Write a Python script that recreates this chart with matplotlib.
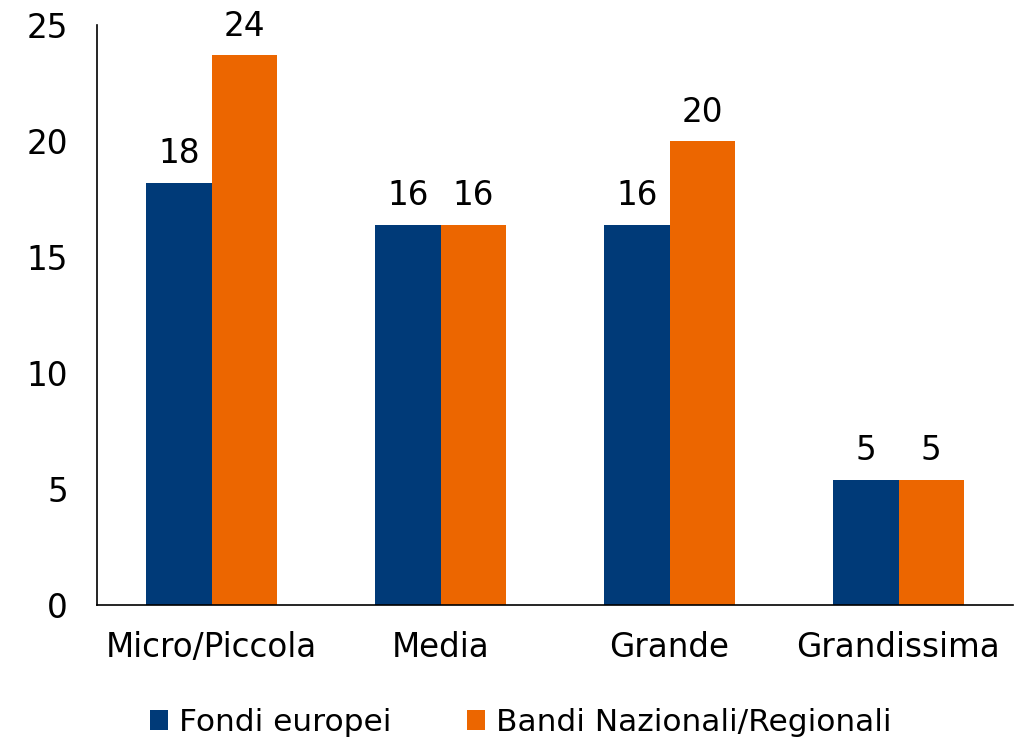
import matplotlib
matplotlib.use("Agg")
import matplotlib.pyplot as plt
import numpy as np

categories = ["Micro/Piccola", "Media", "Grande", "Grandissima"]
fondi_europei = [18.2, 16.4, 16.4, 5.4]
bandi_nazionali = [23.7, 16.4, 20.0, 5.4]
series_names = ["Fondi europei", "Bandi Nazionali/Regionali"]
yticks = [0, 5, 10, 15, 20, 25]

plt.rcParams['font.family'] = ['DejaVu Sans']
blue = "#003A78"
orange = "#EC6600"
FS = 23.5

fig = plt.figure(figsize=(10.25, 7.4), dpi=100)
ax = fig.add_axes([97/1025, 1-605/740, 916/1025, 580/740])

x = np.arange(len(categories))
w = 0.286
b1 = ax.bar(x - w/2, fondi_europei, w, color=blue, label=series_names[0])
b2 = ax.bar(x + w/2, bandi_nazionali, w, color=orange, label=series_names[1])

for bars, vals in ((b1, fondi_europei), (b2, bandi_nazionali)):
    for r, v in zip(bars, vals):
        ax.annotate(f"{v:.0f}", (r.get_x() + r.get_width()/2, r.get_height()),
                    xytext=(0, 9), textcoords="offset points",
                    ha="center", va="bottom", fontsize=FS, color="black")

ax.set_xlim(-0.5, 3.5)
ax.set_ylim(0, 25)
ax.set_yticks(yticks)
ax.set_xticks(x)
ax.set_xticklabels(categories)
ax.tick_params(axis="both", length=0, labelsize=FS, colors="black")
ax.tick_params(axis="y", pad=21)
ax.tick_params(axis="x", pad=19)
for s in ("top", "right"):
    ax.spines[s].set_visible(False)
for s in ("left", "bottom"):
    ax.spines[s].set_color("black")
    ax.spines[s].set_linewidth(1.2)

leg = fig.legend(loc="lower center", bbox_to_anchor=(0.508, -0.034), ncol=2,
                 frameon=False, fontsize=22.5, handlelength=0.6, handleheight=0.6,
                 handletextpad=0.35, columnspacing=2.4)

fig.savefig("out.png", dpi=100)
